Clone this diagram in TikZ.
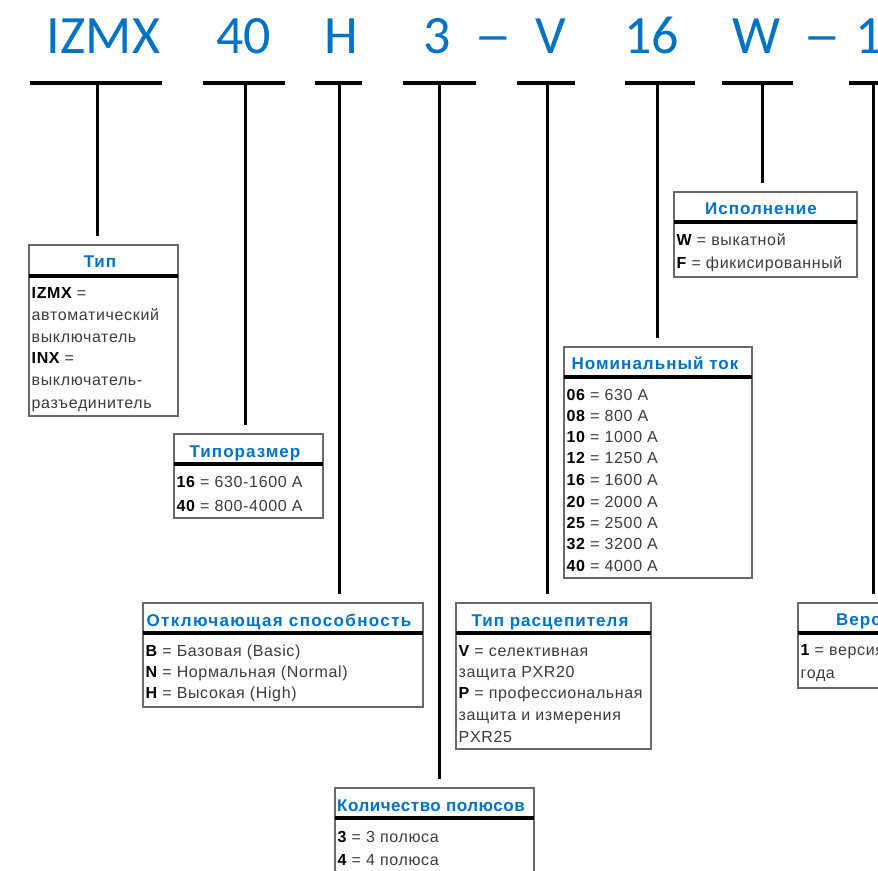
\documentclass[tikz,border=0pt]{standalone}
\usepackage{fontspec}
\setmainfont{Liberation Sans}
\newfontfamily\codefont{Carlito}
\newfontfamily\bodyfont[LetterSpace=4]{Liberation Sans}
\newfontfamily\titlefont[LetterSpace=6]{Liberation Sans}
\usetikzlibrary{calc}
\definecolor{eblue}{RGB}{0,114,198}
\definecolor{etext}{RGB}{60,60,60}
\definecolor{eframe}{RGB}{105,105,105}
\tikzset{
  codetext/.style={font=\codefont\fontsize{54}{60}\selectfont, text=eblue, anchor=base, inner sep=0pt},
  codebar/.style={line width=3.5pt},
  stem/.style={line width=3pt, shorten >=9pt},
  boxframe/.style={draw=eframe, line width=1.2pt, fill=white, anchor=north west, inner sep=0pt, outer sep=0pt},
  titlerule/.style={line width=4.5pt},
  boxtitle/.style={font=\titlefont\bfseries\fontsize{17}{20}\selectfont, text=eblue, anchor=base, inner sep=0pt},
  boxline/.style={font=\bodyfont\fontsize{16}{19}\selectfont, text=etext, anchor=base west, inner sep=0pt},
}
\newcommand{\kk}[1]{\textbf{\color{black}#1}}
\newcommand{\wdash}{\scalebox{1.4}[1]{–}}
\begin{document}
\begin{tikzpicture}[x=1pt,y=-1pt]
\useasboundingbox (0,0) rectangle (878,870);
\clip (0,0) rectangle (878,870);
\fill[white] (0,0) rectangle (878,870);

% code letters
\node[codetext] (cIZMX) at (103.5,53) {IZMX};
\node[codetext] (c40) at (243.5,53) {40};
\node[codetext] (cH) at (341,53) {H};
\node[codetext] (c3) at (437.5,53) {3};
\node[codetext] (cd1) at (493,53) {\wdash};
\node[codetext] (cV) at (551,53) {V};
\node[codetext] (c16) at (651.5,53) {16};
\node[codetext] (cW) at (756.5,53) {W};
\node[codetext] (cd2) at (822,53) {\wdash};
\node[codetext] (c1) at (869,53) {1};

% bars
\coordinate (b1l) at (30,83);  \coordinate (b1r) at (162,83);
\coordinate (b2l) at (203,83); \coordinate (b2r) at (285,83);
\coordinate (b3l) at (315,83); \coordinate (b3r) at (362,83);
\coordinate (b4l) at (403,83); \coordinate (b4r) at (476,83);
\coordinate (b5l) at (517,83); \coordinate (b5r) at (575,83);
\coordinate (b6l) at (625,83); \coordinate (b6r) at (695,83);
\coordinate (b7l) at (722,83); \coordinate (b7r) at (793,83);
\coordinate (b8l) at (849,83); \coordinate (b8r) at (900,83);
\foreach \i in {1,...,8} {\draw[codebar] (b\i l) -- (b\i r);}

% stem tops
\coordinate (s1) at (97,83);
\coordinate (s2) at (245,83);
\coordinate (s3) at (339.5,83);
\coordinate (s4) at (439,83);
\coordinate (s5) at (547,83);
\coordinate (s6) at (657,83);
\coordinate (s7) at (762,83);
\coordinate (s8) at (873,83);

% ---- Box: Тип
\node[boxframe, minimum width=149pt, minimum height=171pt] (tip) at (29,245) {};
\draw[titlerule] (29,276) -- (178,276);
\node[boxtitle] (tipT) at (100,267) {Тип};
\node[boxline] (tip1) at (31.5,298) {\kk{IZMX} =};
\node[boxline] (tip2) at (31.5,320) {автоматический};
\node[boxline] (tip3) at (31.5,342) {выключатель};
\node[boxline] (tip4) at (31.5,363) {\kk{INX} =};
\node[boxline] (tip5) at (31.5,385) {выключатель-};
\node[boxline] (tip6) at (31.5,408) {разъединитель};

% ---- Box: Типоразмер
\node[boxframe, minimum width=149pt, minimum height=84pt] (size) at (174,434) {};
\draw[titlerule] (174,464) -- (323,464);
\node[boxtitle] (sizeT) at (245,457) {Типоразмер};
\node[boxline] (size1) at (176.5,487) {\kk{16} = 630-1600 A};
\node[boxline] (size2) at (176.5,511) {\kk{40} = 800-4000 A};

% ---- Box: Исполнение
\node[boxframe, minimum width=183pt, minimum height=85pt] (exec) at (674,192) {};
\draw[titlerule] (674,222) -- (857,222);
\node[boxtitle] (execT) at (761,214) {Исполнение};
\node[boxline] (exec1) at (676.5,245) {\kk{W} = выкатной};
\node[boxline] (exec2) at (676.5,268) {\kk{F} = фикисированный};

% ---- Box: Номинальный ток
\node[boxframe, minimum width=188pt, minimum height=231pt] (cur) at (564,347) {};
\draw[titlerule] (564,377) -- (752,377);
\node[boxtitle] (curT) at (655,369) {Номинальный ток};
\node[boxline] (cur1) at (566.5,400) {\kk{06} = 630 A};
\node[boxline] (cur2) at (566.5,421) {\kk{08} = 800 A};
\node[boxline] (cur3) at (566.5,442) {\kk{10} = 1000 A};
\node[boxline] (cur4) at (566.5,463) {\kk{12} = 1250 A};
\node[boxline] (cur5) at (566.5,485) {\kk{16} = 1600 A};
\node[boxline] (cur6) at (566.5,507) {\kk{20} = 2000 A};
\node[boxline] (cur7) at (566.5,528) {\kk{25} = 2500 A};
\node[boxline] (cur8) at (566.5,549) {\kk{32} = 3200 A};
\node[boxline] (cur9) at (566.5,571) {\kk{40} = 4000 A};

% ---- Box: Отключающая способность
\node[boxframe, minimum width=280pt, minimum height=104pt] (brk) at (143,603) {};
\draw[titlerule] (143,633) -- (423,633);
\node[boxtitle] (brkT) at (279,626) {\addfontfeature{LetterSpace=8}Отключающая способность};
\node[boxline] (brk1) at (145.5,656) {\kk{B} = Базовая (Basic)};
\node[boxline] (brk2) at (145.5,677) {\kk{N} = Нормальная (Normal)};
\node[boxline] (brk3) at (145.5,698) {\kk{H} = Высокая (High)};

% ---- Box: Тип расцепителя
\node[boxframe, minimum width=195pt, minimum height=146pt] (trip) at (456,603) {};
\draw[titlerule] (456,633) -- (651,633);
\node[boxtitle] (tripT) at (550,626) {Тип расцепителя};
\node[boxline] (trip1) at (458.5,656) {\kk{V} = селективная};
\node[boxline] (trip2) at (458.5,677) {защита PXR20};
\node[boxline] (trip3) at (458.5,698) {\kk{P} = профессиональная};
\node[boxline] (trip4) at (458.5,720) {защита и измерения};
\node[boxline] (trip5) at (458.5,742) {PXR25};

% ---- Box: Количество полюсов
\node[boxframe, minimum width=199pt, minimum height=110pt] (poles) at (335,788) {};
\draw[titlerule] (335,818) -- (534,818);
\node[boxtitle] (polesT) at (431,811) {\addfontfeature{LetterSpace=3}Количество полюсов};
\node[boxline] (poles1) at (337.5,842) {\kk{3} = 3 полюса};
\node[boxline] (poles2) at (337.5,865) {\kk{4} = 4 полюса};

% ---- Box: Версия
\node[boxframe, minimum width=170pt, minimum height=85pt] (ver) at (798,603) {};
\draw[titlerule] (798,633) -- (968,633);
\node[boxtitle, anchor=base west] (verT) at (836,625) {Версия};
\node[boxline] (ver1) at (800.5,655) {\kk{1} = версия};
\node[boxline] (ver2) at (800.5,678) {года};

% stems
\draw[stem] (s1) -- (s1 |- tip.north);
\draw[stem] (s2) -- (s2 |- size.north);
\draw[stem] (s3) -- (s3 |- brk.north);
\draw[stem] (s4) -- (s4 |- poles.north);
\draw[stem] (s5) -- (s5 |- trip.north);
\draw[stem] (s6) -- (s6 |- cur.north);
\draw[stem] (s7) -- (s7 |- exec.north);
\draw[stem] (s8) -- (s8 |- ver.north);
\end{tikzpicture}
\end{document}
